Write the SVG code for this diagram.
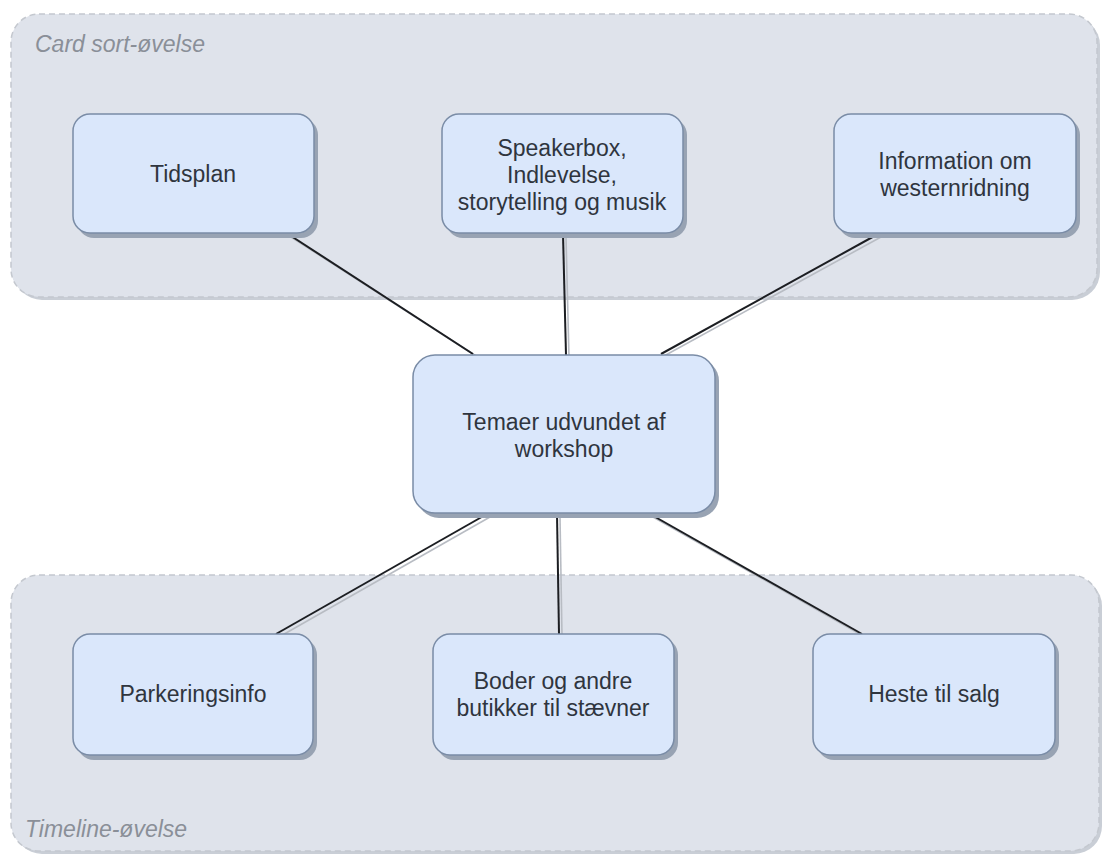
<svg xmlns="http://www.w3.org/2000/svg" width="1104" height="854" viewBox="0 0 1104 854">
  <style>
    .group { fill: #dfe3eb; stroke: #c4c8cf; stroke-width: 1.5; stroke-dasharray: 6 4; }
    .group-shadow { fill: #c9ced6; }
    .group-label { font-family: "Liberation Sans", Arial, sans-serif; font-size: 23px; font-style: italic; fill: #8a8f98; }
    .node { fill: #dae7fb; stroke: #7a8ca6; stroke-width: 1.5; }
    .node-shadow { fill: #98a3b3; }
    .label { font-family: "Liberation Sans", Arial, sans-serif; font-size: 23px; fill: #2f353e; text-anchor: middle; }
    .edge { stroke: #1c1e22; stroke-width: 2; fill: none; }
    .edge-shadow { stroke: #b8bcc3; stroke-width: 1.6; fill: none; }
  </style>
  <rect width="1104" height="854" fill="#ffffff"/>

  <!-- swimlane-like groups -->
  <g id="group-card-sort">
    <rect class="group-shadow" x="14" y="17" width="1086" height="283" rx="28"/>
    <rect class="group" x="11" y="14" width="1086" height="283" rx="28"/>
    <text class="group-label" x="35" y="52">Card sort-øvelse</text>
  </g>
  <g id="group-timeline">
    <rect class="group-shadow" x="14" y="578" width="1088" height="276" rx="28"/>
    <rect class="group" x="11" y="575" width="1088" height="276" rx="28"/>
    <text class="group-label" x="25" y="837">Timeline-øvelse</text>
  </g>

  <!-- connectors -->
  <g id="connectors">
    <g class="shadows">
      <line class="edge-shadow" x1="291" y1="237" x2="476" y2="356"/>
      <line class="edge-shadow" x1="566" y1="237" x2="569" y2="358"/>
      <line class="edge-shadow" x1="881" y1="237" x2="664" y2="356"/>
      <line class="edge-shadow" x1="490" y1="517" x2="279" y2="637"/>
      <line class="edge-shadow" x1="560" y1="517" x2="562" y2="637"/>
      <line class="edge-shadow" x1="653" y1="517" x2="865" y2="637"/>
    </g>
    <line class="edge" x1="288" y1="234" x2="473" y2="354"/>
    <line class="edge" x1="563" y1="234" x2="566" y2="355"/>
    <line class="edge" x1="878" y1="234" x2="661" y2="354"/>
    <line class="edge" x1="487" y1="514" x2="276" y2="634"/>
    <line class="edge" x1="557" y1="514" x2="559" y2="634"/>
    <line class="edge" x1="650" y1="514" x2="862" y2="634"/>
  </g>

  <!-- nodes -->
  <g id="node-tidsplan">
    <rect class="node-shadow" x="77" y="118" width="241" height="120" rx="17"/>
    <rect class="node" x="73" y="114" width="241" height="119" rx="17"/>
    <text class="label" x="193" y="182">Tidsplan</text>
  </g>
  <g id="node-speakerbox">
    <rect class="node-shadow" x="446" y="118" width="241" height="120" rx="17"/>
    <rect class="node" x="442" y="114" width="241" height="119" rx="17"/>
    <text class="label" x="562" y="156">Speakerbox,</text>
    <text class="label" x="562" y="183">Indlevelse,</text>
    <text class="label" x="562" y="210">storytelling og musik</text>
  </g>
  <g id="node-information">
    <rect class="node-shadow" x="838" y="118" width="242" height="120" rx="17"/>
    <rect class="node" x="834" y="114" width="242" height="119" rx="17"/>
    <text class="label" x="955" y="169">Information om</text>
    <text class="label" x="955" y="196">westernridning</text>
  </g>
  <g id="node-temaer">
    <rect class="node-shadow" x="417" y="359" width="302" height="159" rx="22"/>
    <rect class="node" x="413" y="355" width="302" height="158" rx="22"/>
    <text class="label" x="564" y="430">Temaer udvundet af</text>
    <text class="label" x="564" y="457">workshop</text>
  </g>
  <g id="node-parkering">
    <rect class="node-shadow" x="77" y="638" width="240" height="122" rx="17"/>
    <rect class="node" x="73" y="634" width="240" height="121" rx="17"/>
    <text class="label" x="193" y="702">Parkeringsinfo</text>
  </g>
  <g id="node-boder">
    <rect class="node-shadow" x="437" y="638" width="241" height="122" rx="17"/>
    <rect class="node" x="433" y="634" width="241" height="121" rx="17"/>
    <text class="label" x="553" y="689">Boder og andre</text>
    <text class="label" x="553" y="716">butikker til stævner</text>
  </g>
  <g id="node-heste">
    <rect class="node-shadow" x="817" y="638" width="242" height="122" rx="17"/>
    <rect class="node" x="813" y="634" width="242" height="121" rx="17"/>
    <text class="label" x="934" y="702">Heste til salg</text>
  </g>
</svg>
